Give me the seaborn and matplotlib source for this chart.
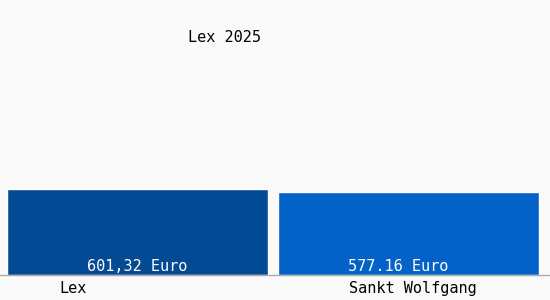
import matplotlib
matplotlib.use("Agg")
import matplotlib.pyplot as plt
import matplotlib.transforms as mtransforms
import seaborn as sns
import pandas as pd

categories = ["Lex", "Sankt Wolfgang"]
values = [601.32, 577.16]
value_labels = ["601,32 Euro", "577.16 Euro"]
bar_colors = ["#034a94", "#0362c8"]
title = "Lex 2025"

sns.set_theme(style="white")
plt.rcParams["font.family"] = ["DejaVu Sans Mono", "DejaVu Sans"]

df = pd.DataFrame({"cat": categories, "val": values})

fig = plt.figure(figsize=(5.5, 3.0), dpi=100, facecolor="#fafafa")
ax = fig.add_axes([0, 25 / 300, 1, 275 / 300])
ax.set_facecolor("#fafafa")

sns.barplot(data=df, x="cat", y="val", hue="cat", palette=bar_colors,
            width=0.965, legend=False, ax=ax, saturation=1)

ax.set_xlim(-0.508, 1.522)
ax.set_ylim(0, 601.32 * 275 / 86)

for s in ["top", "right", "left"]:
    ax.spines[s].set_visible(False)
ax.spines["bottom"].set_color("#aaaaaa")
ax.spines["bottom"].set_linewidth(1)
ax.set_yticks([])
ax.set_xlabel("")
ax.set_ylabel("")
ax.tick_params(axis="x", length=0, pad=4, labelsize=11, colors="black")
ax.set_xticks(range(len(categories)))
ax.set_xticklabels(categories)

# shift first tick label left like the reference
lbls = ax.get_xticklabels()
offs = [-65, 4]
for lbl, o in zip(lbls, offs):
    lbl.set_transform(lbl.get_transform() + mtransforms.ScaledTranslation(o / 100, 0, fig.dpi_scale_trans))

label_offsets = [0, -10]
for i, (v, t) in enumerate(zip(values, value_labels)):
    ax.annotate(t, xy=(i, 0), xytext=(label_offsets[i], 1), textcoords="offset pixels",
                ha="center", va="bottom", color="white", fontsize=11)

fig.text(225 / 550, 1 - 38 / 300, title, ha="center", va="center", fontsize=11, color="black")

fig.savefig("out.png", dpi=100, facecolor=fig.get_facecolor())
